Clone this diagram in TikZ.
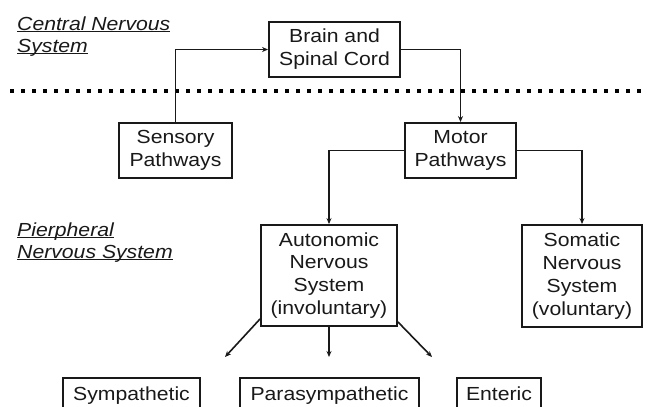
\documentclass[tikz,border=0pt]{standalone}
\usepackage{fontspec}
\setmainfont{Liberation Sans}[FakeStretch=1.12]
\usetikzlibrary{arrows.meta}
\newcommand\myul[1]{\underline{\smash{#1}}}
\begin{document}
\begin{tikzpicture}[x=1bp,y=-1bp,
  box/.style={draw=black!90, line width=1.9bp, fill=white, align=center, inner sep=0pt,
    font=\fontsize{19}{23}\selectfont, text=black!90},
  lowbox/.style={box, anchor=north, text height=23bp, text depth=30bp},
  lbl/.style={anchor=north west, inner sep=0pt, align=left, text=black!90,
    font=\fontsize{19}{22}\selectfont\itshape},
  conn/.style={draw=black!90, line width=1.6bp},
  arr/.style={conn, -{Stealth[length=6bp,width=5bp]}}]
\useasboundingbox (0,0) rectangle (656,406);
\clip (0,0) rectangle (656,406);
\fill[white] (0,0) rectangle (656,406);

% labels
\node[lbl] (cns) at (17,30) {\myul{Central Nervous}\\\myul{System}};
\node[lbl] (pns) at (17,236) {\myul{Pierpheral}\\\myul{Nervous System}};

% divider
\coordinate (d1) at (10,91);
\coordinate (d2) at (648,91);
\draw[black, line width=4bp, dash pattern=on 4bp off 7bp] (d1) -- (d2);

% boxes
\node[box, minimum width=131bp, minimum height=55bp] (brain) at (334.5,49.5) {Brain and\\Spinal Cord};
\node[box, minimum width=113bp, minimum height=55bp] (sens) at (175.5,150.5) {Sensory\\Pathways};
\node[box, minimum width=111bp, minimum height=55bp] (motor) at (460.5,150.5) {Motor\\Pathways};
\node[box, minimum width=136bp, minimum height=101bp] (auto) at (329,275.5) {Autonomic\\Nervous\\System\\(involuntary)};
\node[box, minimum width=120bp, minimum height=102bp] (soma) at (582,276) {Somatic\\Nervous\\System\\(voluntary)};

\node[lowbox, minimum width=137bp] (symp) at (131.5,377) {Sympathetic};
\node[lowbox, minimum width=179bp] (para) at (329.5,377) {Parasympathetic};
\node[lowbox, minimum width=84bp] (ent) at (499,377) {Enteric};

% connectors
\draw[arr] (sens.north) |- (brain.west);
\draw[arr] (brain.east) -| (motor.north);
\draw[arr] (motor.west) -| (auto.north);
\draw[arr] (motor.east) -| (soma.north);

\coordinate (a1) at (225,357);
\coordinate (a2) at (329,357);
\coordinate (a3) at (432,357);
\draw[arr] ([yshift=8bp]auto.south west) -- (a1);
\draw[arr] (auto.south) -- (a2);
\draw[arr] ([yshift=5bp]auto.south east) -- (a3);
\end{tikzpicture}
\end{document}
